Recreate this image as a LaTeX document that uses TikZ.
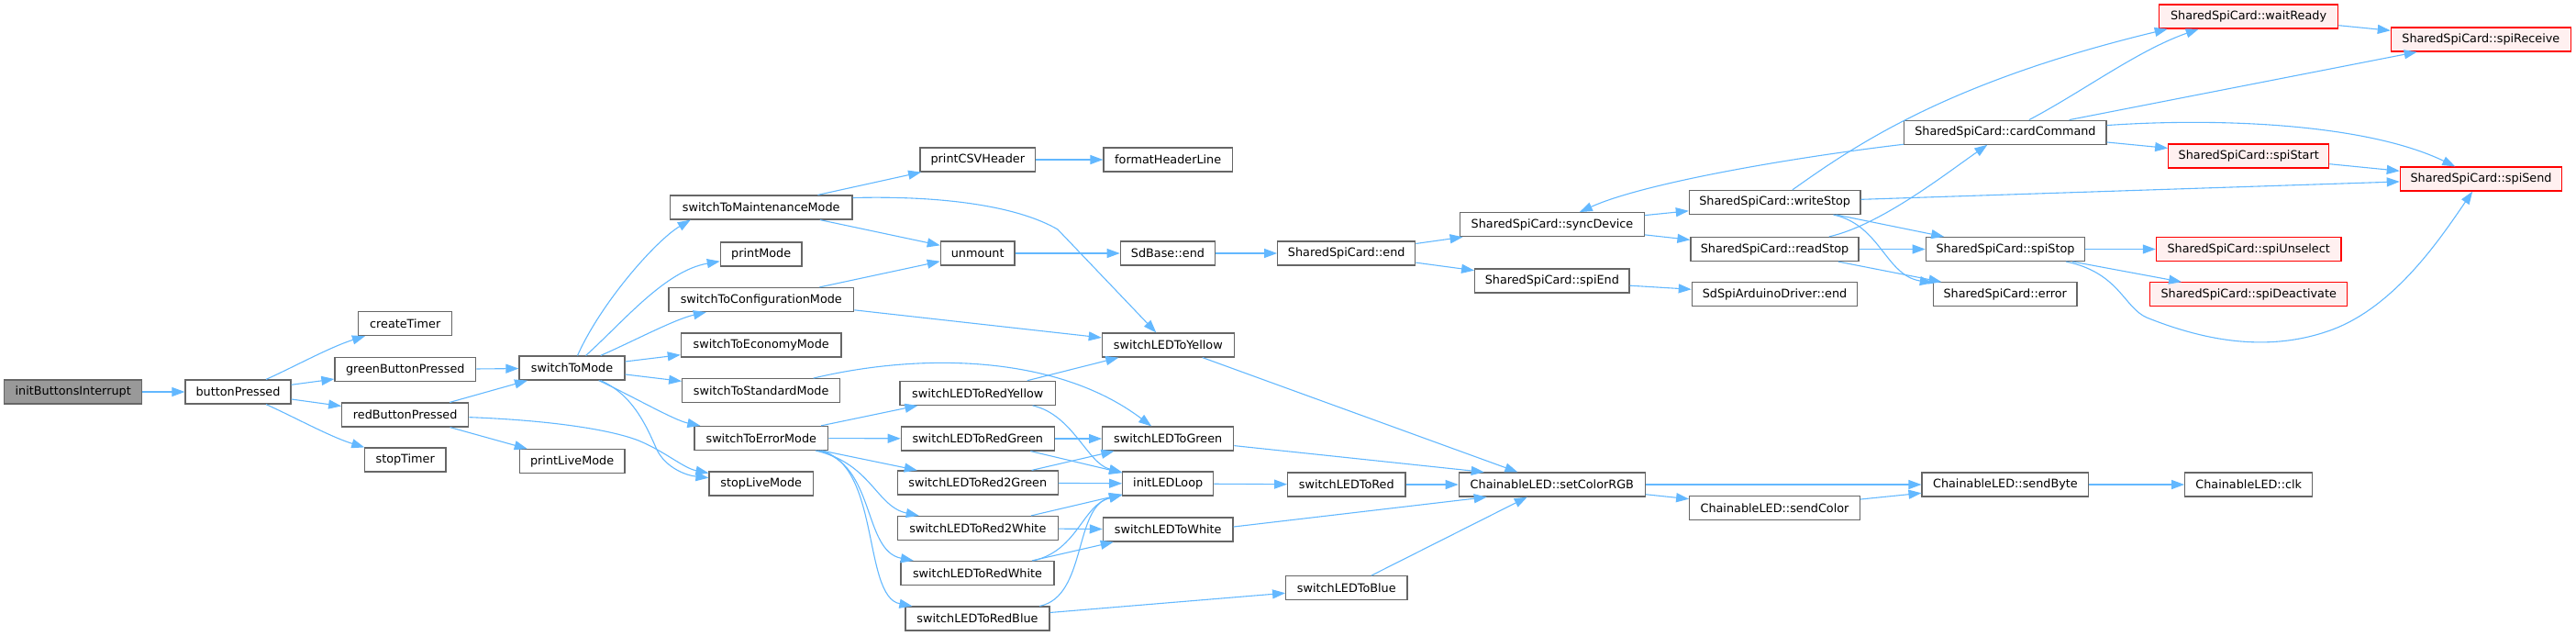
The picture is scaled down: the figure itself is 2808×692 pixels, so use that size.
\documentclass[tikz,border=0pt]{standalone}
\usepackage{fontspec}
\newfontfamily\dvs{DejaVu Sans}
\usetikzlibrary{arrows.meta,calc}
\definecolor{edgec}{HTML}{63B8FF}
\definecolor{bordc}{HTML}{666666}
\definecolor{rootc}{HTML}{999999}
\definecolor{extc}{HTML}{FFF0F0}
\newcommand\fnode[5]{\node[#1,minimum width=#4*0.5pt] (#2) at (#3) {#5};}
\begin{document}
\begin{tikzpicture}[x=0.5pt,y=-0.5pt,
 fn/.style={draw=bordc,fill=white,line width=0.6pt,minimum height=13pt,inner sep=0pt,font=\dvs\fontsize{6.4}{7.6}\selectfont},
 rootfn/.style={fn,fill=rootc},
 extfn/.style={fn,draw=red,fill=extc},
 e/.style={draw=edgec,line width=0.55pt,-{Triangle[length=7pt,width=5pt]}}]
\useasboundingbox (0,0) rectangle (2808,692);
% nodes
\fnode{rootfn}{ibi}{79.7,427}{150}{initButtonsInterrupt}
\fnode{fn}{bp}{259.5,427}{115}{buttonPressed}
\fnode{fn}{ct}{441.7,352.6}{102}{createTimer}
\fnode{fn}{gbp}{441.8,402.7}{153.7}{greenButtonPressed}
\fnode{fn}{rbp}{441.7,452}{138}{redButtonPressed}
\fnode{fn}{st}{441.7,501}{88.7}{stopTimer}
\fnode{fn}{stm}{623.5,401}{115}{switchToMode}
\fnode{fn}{plm}{623.6,502.6}{114.7}{printLiveMode}
\fnode{fn}{smm}{829.7,226}{198.7}{switchToMaintenanceMode}
\fnode{fn}{pm}{829.7,277}{88.7}{printMode}
\fnode{fn}{scm}{829.8,326.5}{201.7}{switchToConfigurationMode}
\fnode{fn}{sem}{829.7,376}{174.7}{switchToEconomyMode}
\fnode{fn}{ssm}{829.7,425.7}{172}{switchToStandardMode}
\fnode{fn}{serm}{829.8,477.4}{145.7}{switchToErrorMode}
\fnode{fn}{slm}{829.7,527}{113.3}{stopLiveMode}
\fnode{fn}{csv}{1065.8,174}{125.7}{printCSVHeader}
\fnode{fn}{unm}{1065.7,276}{80.7}{unmount}
\fnode{fn}{lry}{1065.8,428.3}{169.7}{switchLEDToRedYellow}
\fnode{fn}{lrg}{1065.8,478}{167}{switchLEDToRedGreen}
\fnode{fn}{lrtg}{1065.8,526}{175}{switchLEDToRed2Green}
\fnode{fn}{lrtw}{1065.8,575.5}{175}{switchLEDToRed2White}
\fnode{fn}{lrw}{1065.5,624.5}{167}{switchLEDToRedWhite}
\fnode{fn}{lrb}{1065.5,674}{157}{switchLEDToRedBlue}
\fnode{fn}{fhl}{1273.2,174}{140.3}{formatHeaderLine}
\fnode{fn}{sbe}{1273,276}{103.4}{SdBase::end}
\fnode{fn}{ly}{1273.3,376}{144}{switchLEDToYellow}
\fnode{fn}{lg}{1273.2,478}{143}{switchLEDToGreen}
\fnode{fn}{ill}{1273.2,527}{99}{initLEDLoop}
\fnode{fn}{lw}{1273.2,577}{141.7}{switchLEDToWhite}
\fnode{fn}{sce}{1467.7,276}{150}{SharedSpiCard::end}
\fnode{fn}{lr}{1467.8,528}{128.3}{switchLEDToRed}
\fnode{fn}{lb}{1467.8,640.7}{132.3}{switchLEDToBlue}
\fnode{fn}{sync}{1692,244.7}{200.6}{SharedSpiCard::syncDevice}
\fnode{fn}{spe}{1691.8,306}{168.3}{SharedSpiCard::spiEnd}
\fnode{fn}{rgb}{1691.8,528}{203}{ChainableLED::setColorRGB}
\fnode{fn}{ws}{1934.7,220.4}{186.7}{SharedSpiCard::writeStop}
\fnode{fn}{rs}{1934.5,271.5}{183}{SharedSpiCard::readStop}
\fnode{fn}{sad}{1934.5,320.8}{180.4}{SdSpiArduinoDriver::end}
\fnode{fn}{sc}{1934.5,553.5}{185.6}{ChainableLED::sendColor}
\fnode{fn}{cc}{2185.9,144.2}{220.3}{SharedSpiCard::cardCommand}
\fnode{fn}{sstop}{2186,271.5}{173.4}{SharedSpiCard::spiStop}
\fnode{fn}{err}{2185.7,320.8}{156.7}{SharedSpiCard::error}
\fnode{fn}{sb}{2185.9,528}{181.7}{ChainableLED::sendByte}
\fnode{extfn}{wr}{2451,18}{195.4}{SharedSpiCard::waitReady}
\fnode{extfn}{sst}{2451.2,170}{175}{SharedSpiCard::spiStart}
\fnode{extfn}{sun}{2451.2,271.5}{201.7}{SharedSpiCard::spiUnselect}
\fnode{extfn}{sdeac}{2451.2,320.8}{215}{SharedSpiCard::spiDeactivate}
\fnode{fn}{clk}{2451.2,528}{139}{ChainableLED::clk}
\fnode{extfn}{srx}{2704.3,43}{196}{SharedSpiCard::spiReceive}
\fnode{extfn}{ssend}{2704.5,195}{176.4}{SharedSpiCard::spiSend}
% edges
\draw[e] (ibi) -- (bp);
\draw[e] (bp) .. controls (320,400) and (360,378) .. (ct);
\draw[e] (bp) -- (gbp);
\draw[e] (bp) -- (rbp);
\draw[e] (bp) .. controls (320,454) and (360,476) .. (st);
\draw[e] (gbp) -- (stm);
\draw[e] (rbp) -- (stm);
\draw[e] (rbp) -- (plm);
\draw[e] (rbp) .. controls (600,458) and (665,468) .. (696,480) .. controls (725,492) and (745,510) .. (slm);
\draw[e] (stm) .. controls (690,430) and (705,465) .. (716,490) .. controls (726,510) and (748,518) .. (slm);
\draw[e] (stm) .. controls (655,330) and (715,262) .. ($(smm.south west)+(23,0)$);
\draw[e] (stm) .. controls (680,350) and (725,295) .. (pm);
\draw[e] (stm) .. controls (690,372) and (735,348) .. (scm);
\draw[e] (stm) -- (sem);
\draw[e] (stm) -- (ssm);
\draw[e] (stm) .. controls (690,432) and (735,458) .. (serm);
\draw[e] (smm) -- (csv);
\draw[e] (smm) -- (unm);
\draw[e] ($(smm.east)+(0,-10.5)$) .. controls (1030,213) and (1110,225) .. (1153,250) -- (ly);
\draw[e] (scm) -- (unm);
\draw[e] (scm) -- (ly);
\draw[e] (ssm) .. controls (1000,385) and (1150,385) .. (lg);
\draw[e] (serm) -- (lry);
\draw[e] (serm) -- (lrg);
\draw[e] (serm) -- (lrtg);
\draw[e] (serm) .. controls (950,505) and (955,552) .. (lrtw);
\draw[e] (serm) .. controls (955,505) and (940,600) .. (lrw);
\draw[e] (serm) .. controls (960,505) and (940,650) .. (lrb);
\draw[e] (csv) -- (fhl);
\draw[e] (unm) -- (sbe);
\draw[e] (sbe) -- (sce);
\draw[e] (lry) -- (ly);
\draw[e] (lry) .. controls (1170,452) and (1185,505) .. (ill);
\draw[e] (lrg) -- (lg);
\draw[e] (lrg) -- (ill);
\draw[e] (lrtg) -- (lg);
\draw[e] (lrtg) -- (ill);
\draw[e] (lrtw) -- (ill);
\draw[e] (lrtw) -- (lw);
\draw[e] (lrw) .. controls (1175,600) and (1180,550) .. (ill);
\draw[e] (lrw) -- (lw);
\draw[e] (lrb) .. controls (1185,650) and (1170,552) .. (ill);
\draw[e] (lrb) -- (lb);
\draw[e] (ly) -- (rgb);
\draw[e] (lg) -- ($(rgb.north west)+(28,0)$);
\draw[e] (ill) -- (lr);
\draw[e] (lr) -- (rgb);
\draw[e] ($(lw.east)+(0,-3)$) -- ($(rgb.south west)+(31,0)$);
\draw[e] (lb) -- (rgb);
\draw[e] (sce) -- (sync);
\draw[e] (sce) -- (spe);
\draw[e] (spe) -- (sad);
\draw[e] (sync) -- (ws);
\draw[e] (sync) -- (rs);
\draw[e] (cc) .. controls (1950,172) and (1790,200) .. (sync);
\draw[e] (ws) .. controls (2020,160) and (2120,90) .. ($(wr.south west)+(10,0)$);
\draw[e] (cc) .. controls (2270,100) and (2330,55) .. ($(wr.south west)+(44,0)$);
\draw[e] (cc) -- (srx);
\draw[e] (cc) .. controls (2420,128) and (2580,135) .. (ssend);
\draw[e] (cc) -- (sst);
\draw[e] (ws) -- (ssend);
\draw[e] (ws) -- (sstop);
\draw[e] (ws) .. controls (2050,245) and (2055,300) .. (err);
\draw[e] (rs) .. controls (2050,245) and (2120,190) .. (cc);
\draw[e] (rs) -- (sstop);
\draw[e] (rs) -- (err);
\draw[e] (sst) -- (ssend);
\draw[e] (wr) -- (srx);
\draw[e] (sstop) -- (sun);
\draw[e] (sstop) -- (sdeac);
\draw[e] (sstop) .. controls (2310,297) and (2315,335) .. (2340,346) .. controls (2400,370) and (2470,385) .. (2540,360) .. controls (2610,335) and (2660,260) .. (ssend);
\draw[e] (rgb) -- (sb);
\draw[e] (rgb) -- (sc);
\draw[e] (sc) -- (sb);
\draw[e] (sb) -- (clk);
\end{tikzpicture}
\end{document}
